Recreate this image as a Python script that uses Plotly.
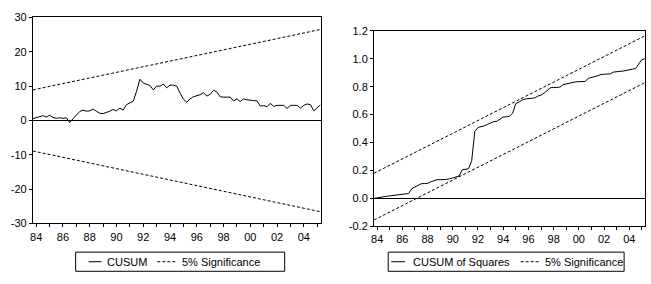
import plotly.graph_objects as go

# ---- data ----
start_year = 1983.75
step = 0.25

cusum = [0.5, 0.8, 1.1, 1.4, 1.0, 1.5, 0.9, 0.6, 0.8, 0.6,
         0.8, -0.6, 0.5, 1.6, 2.6, 3.0, 2.7, 2.8, 3.3, 2.7,
         2.1, 2.0, 2.3, 2.7, 3.2, 2.8, 3.6, 3.0, 4.6, 5.1,
         5.6, 8.5, 12.0, 10.9, 10.6, 10.2, 8.9, 10.0, 10.0, 10.6,
         9.5, 10.3, 10.3, 10.0, 8.0, 6.2, 5.3, 6.3, 6.9, 7.2,
         7.5, 8.1, 7.1, 7.6, 8.8, 8.3, 6.9, 6.8, 6.7, 6.8,
         5.7, 6.3, 5.5, 6.3, 6.0, 5.8, 5.8, 5.7, 4.2, 4.3,
         4.0, 5.0, 4.1, 4.4, 4.4, 4.4, 3.5, 4.4, 4.4, 4.4,
         3.6, 4.4, 4.8, 4.6, 2.8, 3.6, 4.6]

cusum_sq = [0.0, 0.005, 0.01, 0.012, 0.015, 0.018, 0.02, 0.025, 0.026, 0.027,
            0.028, 0.035, 0.07, 0.082, 0.095, 0.105, 0.106, 0.107, 0.118, 0.128,
            0.134, 0.134, 0.134, 0.136, 0.14, 0.145, 0.152, 0.16, 0.205, 0.208,
            0.212, 0.27, 0.48, 0.508, 0.512, 0.52, 0.53, 0.543, 0.55, 0.552,
            0.57, 0.583, 0.585, 0.588, 0.61, 0.68, 0.69, 0.705, 0.712, 0.715,
            0.716, 0.72, 0.733, 0.74, 0.755, 0.775, 0.793, 0.794, 0.795, 0.797,
            0.815, 0.82, 0.827, 0.832, 0.835, 0.836, 0.836, 0.838, 0.86, 0.865,
            0.87, 0.878, 0.888, 0.89, 0.89, 0.892, 0.905, 0.91, 0.91, 0.912,
            0.918, 0.922, 0.926, 0.93, 0.965, 0.995, 1.0]

# significance bands (straight lines: first and last value)
cusum_upper = [8.9, 26.5]
cusum_lower = [-8.9, -26.6]
sq_upper = [0.18, 1.165]
sq_lower = [-0.155, 0.83]

tick_years = list(range(1984, 2006))
tick_labels = ["84", "", "86", "", "88", "", "90", "", "92", "", "94", "",
               "96", "", "98", "", "00", "", "02", "", "04", ""]

left_yticks = [-30, -20, -10, 0, 10, 20, 30]
left_ylabels = ["-30", "-20", "-10", "0", "10", "20", "30"]
right_yticks = [-0.2, 0.0, 0.2, 0.4, 0.6, 0.8, 1.0, 1.2]
right_ylabels = ["-0.2", "0.0", "0.2", "0.4", "0.6", "0.8", "1.0", "1.2"]

left_legend = ["CUSUM", "5% Significance"]
right_legend = ["CUSUM of Squares", "5% Significance"]

# ---- derived x values ----
dates = [start_year + step * i for i in range(len(cusum))]
band_x = [dates[0], dates[-1]]

FONT = "Liberation Sans, Arial, sans-serif"
DASH = "3px,2px"
W, H = 651, 284

fig = go.Figure()

fig.add_trace(go.Scatter(x=dates, y=cusum, mode="lines", showlegend=False,
                         line=dict(color="black", width=1), xaxis="x", yaxis="y"))
fig.add_trace(go.Scatter(x=band_x, y=cusum_upper, mode="lines", showlegend=False,
                         line=dict(color="black", width=1, dash=DASH), xaxis="x", yaxis="y"))
fig.add_trace(go.Scatter(x=band_x, y=cusum_lower, mode="lines", showlegend=False,
                         line=dict(color="black", width=1, dash=DASH), xaxis="x", yaxis="y"))

fig.add_trace(go.Scatter(x=dates, y=cusum_sq, mode="lines", showlegend=False,
                         line=dict(color="black", width=1), xaxis="x2", yaxis="y2"))
fig.add_trace(go.Scatter(x=band_x, y=sq_upper, mode="lines", showlegend=False,
                         line=dict(color="black", width=1, dash=DASH), xaxis="x2", yaxis="y2"))
fig.add_trace(go.Scatter(x=band_x, y=sq_lower, mode="lines", showlegend=False,
                         line=dict(color="black", width=1, dash=DASH), xaxis="x2", yaxis="y2"))


def xaxis_cfg(domain, anchor):
    return dict(domain=domain, anchor=anchor, range=[dates[0], dates[-1]],
                tickmode="array", tickvals=tick_years, ticktext=tick_labels,
                ticks="outside", ticklen=3, tickcolor="black", tickwidth=1,
                showline=True, linecolor="black", linewidth=1, mirror=True,
                showgrid=False, zeroline=False,
                tickfont=dict(family=FONT, size=11, color="black"))


def yaxis_cfg(domain, anchor, rng, ticks, labels):
    return dict(domain=domain, anchor=anchor, range=rng,
                tickmode="array", tickvals=ticks, ticktext=labels,
                ticks="outside", ticklen=3, tickcolor="black", tickwidth=1,
                showline=True, linecolor="black", linewidth=1, mirror=True,
                showgrid=False, zeroline=True, zerolinecolor="black", zerolinewidth=1,
                tickfont=dict(family=FONT, size=11, color="black"))


# ---- manual legends (paper coordinates from pixels) ----
def px(x):
    return x / W


def py(y):
    return 1 - y / H


shapes = []
annotations = []


def add_legend(box, solid, solid_text_x, dashed, dashed_text_x, labels):
    x0, x1, y0, y1 = box
    shapes.append(dict(type="rect", xref="paper", yref="paper",
                       x0=px(x0), x1=px(x1), y0=py(y1), y1=py(y0),
                       line=dict(color="black", width=1), fillcolor="white"))
    ym = (y0 + y1) / 2
    shapes.append(dict(type="line", xref="paper", yref="paper",
                       x0=px(solid[0]), x1=px(solid[1]), y0=py(ym), y1=py(ym),
                       line=dict(color="black", width=1)))
    shapes.append(dict(type="line", xref="paper", yref="paper",
                       x0=px(dashed[0]), x1=px(dashed[1]), y0=py(ym), y1=py(ym),
                       line=dict(color="black", width=1, dash=DASH)))
    for tx, lab in zip([solid_text_x, dashed_text_x], labels):
        annotations.append(dict(x=px(tx), y=py(ym), xref="paper", yref="paper",
                                text=lab, showarrow=False, xanchor="left", yanchor="middle",
                                font=dict(family=FONT, size=11, color="black")))


add_legend((73, 283, 257, 277), (86, 99), 102, (155, 175), 178, left_legend)
add_legend((387, 624, 257, 277), (390, 404), 410, (520, 540), 543, right_legend)

fig.update_layout(
    width=W, height=H, autosize=False,
    margin=dict(l=0, r=0, t=0, b=0),
    paper_bgcolor="white", plot_bgcolor="white",
    font=dict(family=FONT, size=11, color="black"),
    showlegend=False,
    xaxis=xaxis_cfg([30 / W, 319 / W], "y"),
    yaxis=yaxis_cfg([1 - 227 / H, 1 - 12 / H], "x", [-30, 30], left_yticks, left_ylabels),
    xaxis2=xaxis_cfg([372.7 / W, 645 / W], "y2"),
    yaxis2=yaxis_cfg([1 - 230 / H, 1 - 26 / H], "x2", [-0.2, 1.2], right_yticks, right_ylabels),
    shapes=shapes,
    annotations=annotations,
)

fig.write_html("out.html",
               config={"displayModeBar": False, "staticPlot": True},
               post_script="document.body.style.margin='0';document.body.style.overflow='hidden';")
